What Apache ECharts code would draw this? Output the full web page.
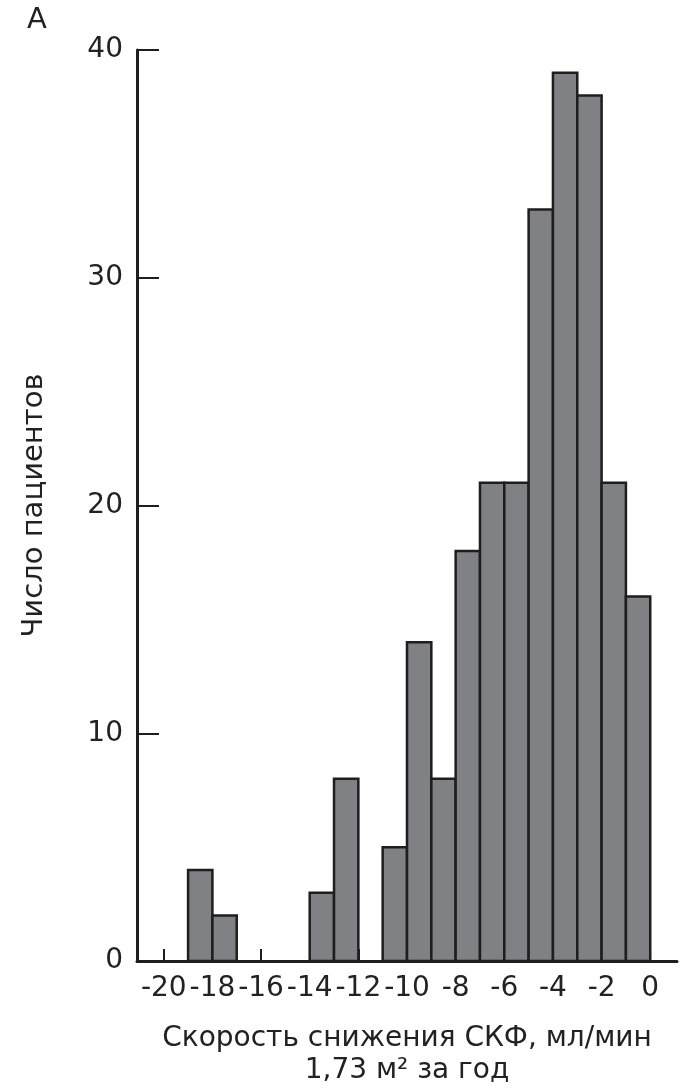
<!DOCTYPE html>
<html>
<head>
<meta charset="utf-8">
<script src="https://cdn.jsdelivr.net/npm/echarts@6/dist/echarts.min.js"></script>
<style>
html,body{margin:0;padding:0;background:#fff;}
#chart{width:687px;height:1091px;}
</style>
</head>
<body>
<div id="chart"></div>
<script>
// Histogram bins (left edge, right edge) and patient counts
const binLeft  = [-19, -18, -14, -13, -11, -10, -9, -8, -7, -6, -5, -4, -3, -2, -1];
const binRight = [-18, -17, -13, -12, -10,  -9, -8, -7, -6, -5, -4, -3, -2, -1,  0];
const counts   = [  4,   2,   3,   8,   5,  14,  8, 18, 21, 21, 33, 39, 38, 21, 16];
const xTicks = [-20, -18, -16, -14, -12, -10, -8, -6, -4, -2, 0];
const yTicks = [0, 10, 20, 30, 40];
const panelLabel = 'А';
const xTitle = 'Скорость снижения СКФ, мл/мин\n1,73 м² за год';
const yTitle = 'Число пациентов';

const data = binLeft.map((l, i) => [l, binRight[i], counts[i]]);

const font = '"DejaVu Sans", "Liberation Sans", Arial, sans-serif';
const chart = echarts.init(document.getElementById('chart'));
chart.setOption({
  animation: false,
  backgroundColor: '#fff',
  textStyle: {fontFamily: font},
  grid: {left: 137, right: 10, top: 50, bottom: 130, containLabel: false, outerBoundsMode: 'none'},
  xAxis: {
    type: 'value',
    min: -21.1, max: 1.1,
    name: xTitle,
    nameLocation: 'middle',
    nameGap: 62,
    nameTextStyle: {fontSize: 28, color: '#222', fontFamily: font, lineHeight: 32},
    axisLine: {show: true, onZero: false, lineStyle: {color: '#1e1e1e', width: 3}},
    axisTick: {show: true, inside: true, length: 12, lineStyle: {color: '#1e1e1e', width: 2}, customValues: xTicks},
    axisLabel: {show: true, customValues: xTicks, fontSize: 28, color: '#222', margin: 14, fontFamily: font,
      formatter: v => String(v)},
    splitLine: {show: false}
  },
  yAxis: {
    type: 'value',
    min: 0, max: 40,
    name: yTitle,
    nameLocation: 'middle',
    nameGap: 88,
    nameRotate: 90,
    nameTextStyle: {fontSize: 29, color: '#222', fontFamily: font},
    axisLine: {show: true, onZero: false, lineStyle: {color: '#1e1e1e', width: 3}},
    axisTick: {show: true, inside: true, length: 22, lineStyle: {color: '#1e1e1e', width: 2}, customValues: yTicks},
    axisLabel: {show: true, customValues: yTicks, fontSize: 28, color: '#222', margin: 14, fontFamily: font},
    splitLine: {show: false}
  },
  graphic: [{
    type: 'text', left: 27, top: 6,
    style: {text: panelLabel, fontSize: 29, fill: '#222', fontFamily: font}
  }],
  series: [{
    type: 'custom',
    data: data,
    encode: {x: [0, 1], y: 2},
    renderItem: function (params, api) {
      const p0 = api.coord([api.value(0), api.value(2)]);
      const p1 = api.coord([api.value(1), 0]);
      return {
        type: 'rect',
        shape: {x: p0[0], y: p0[1], width: p1[0] - p0[0], height: p1[1] - p0[1]},
        style: {fill: '#808185', stroke: '#1e1e1e', lineWidth: 2.5}
      };
    }
  }]
});
</script>
</body>
</html>
